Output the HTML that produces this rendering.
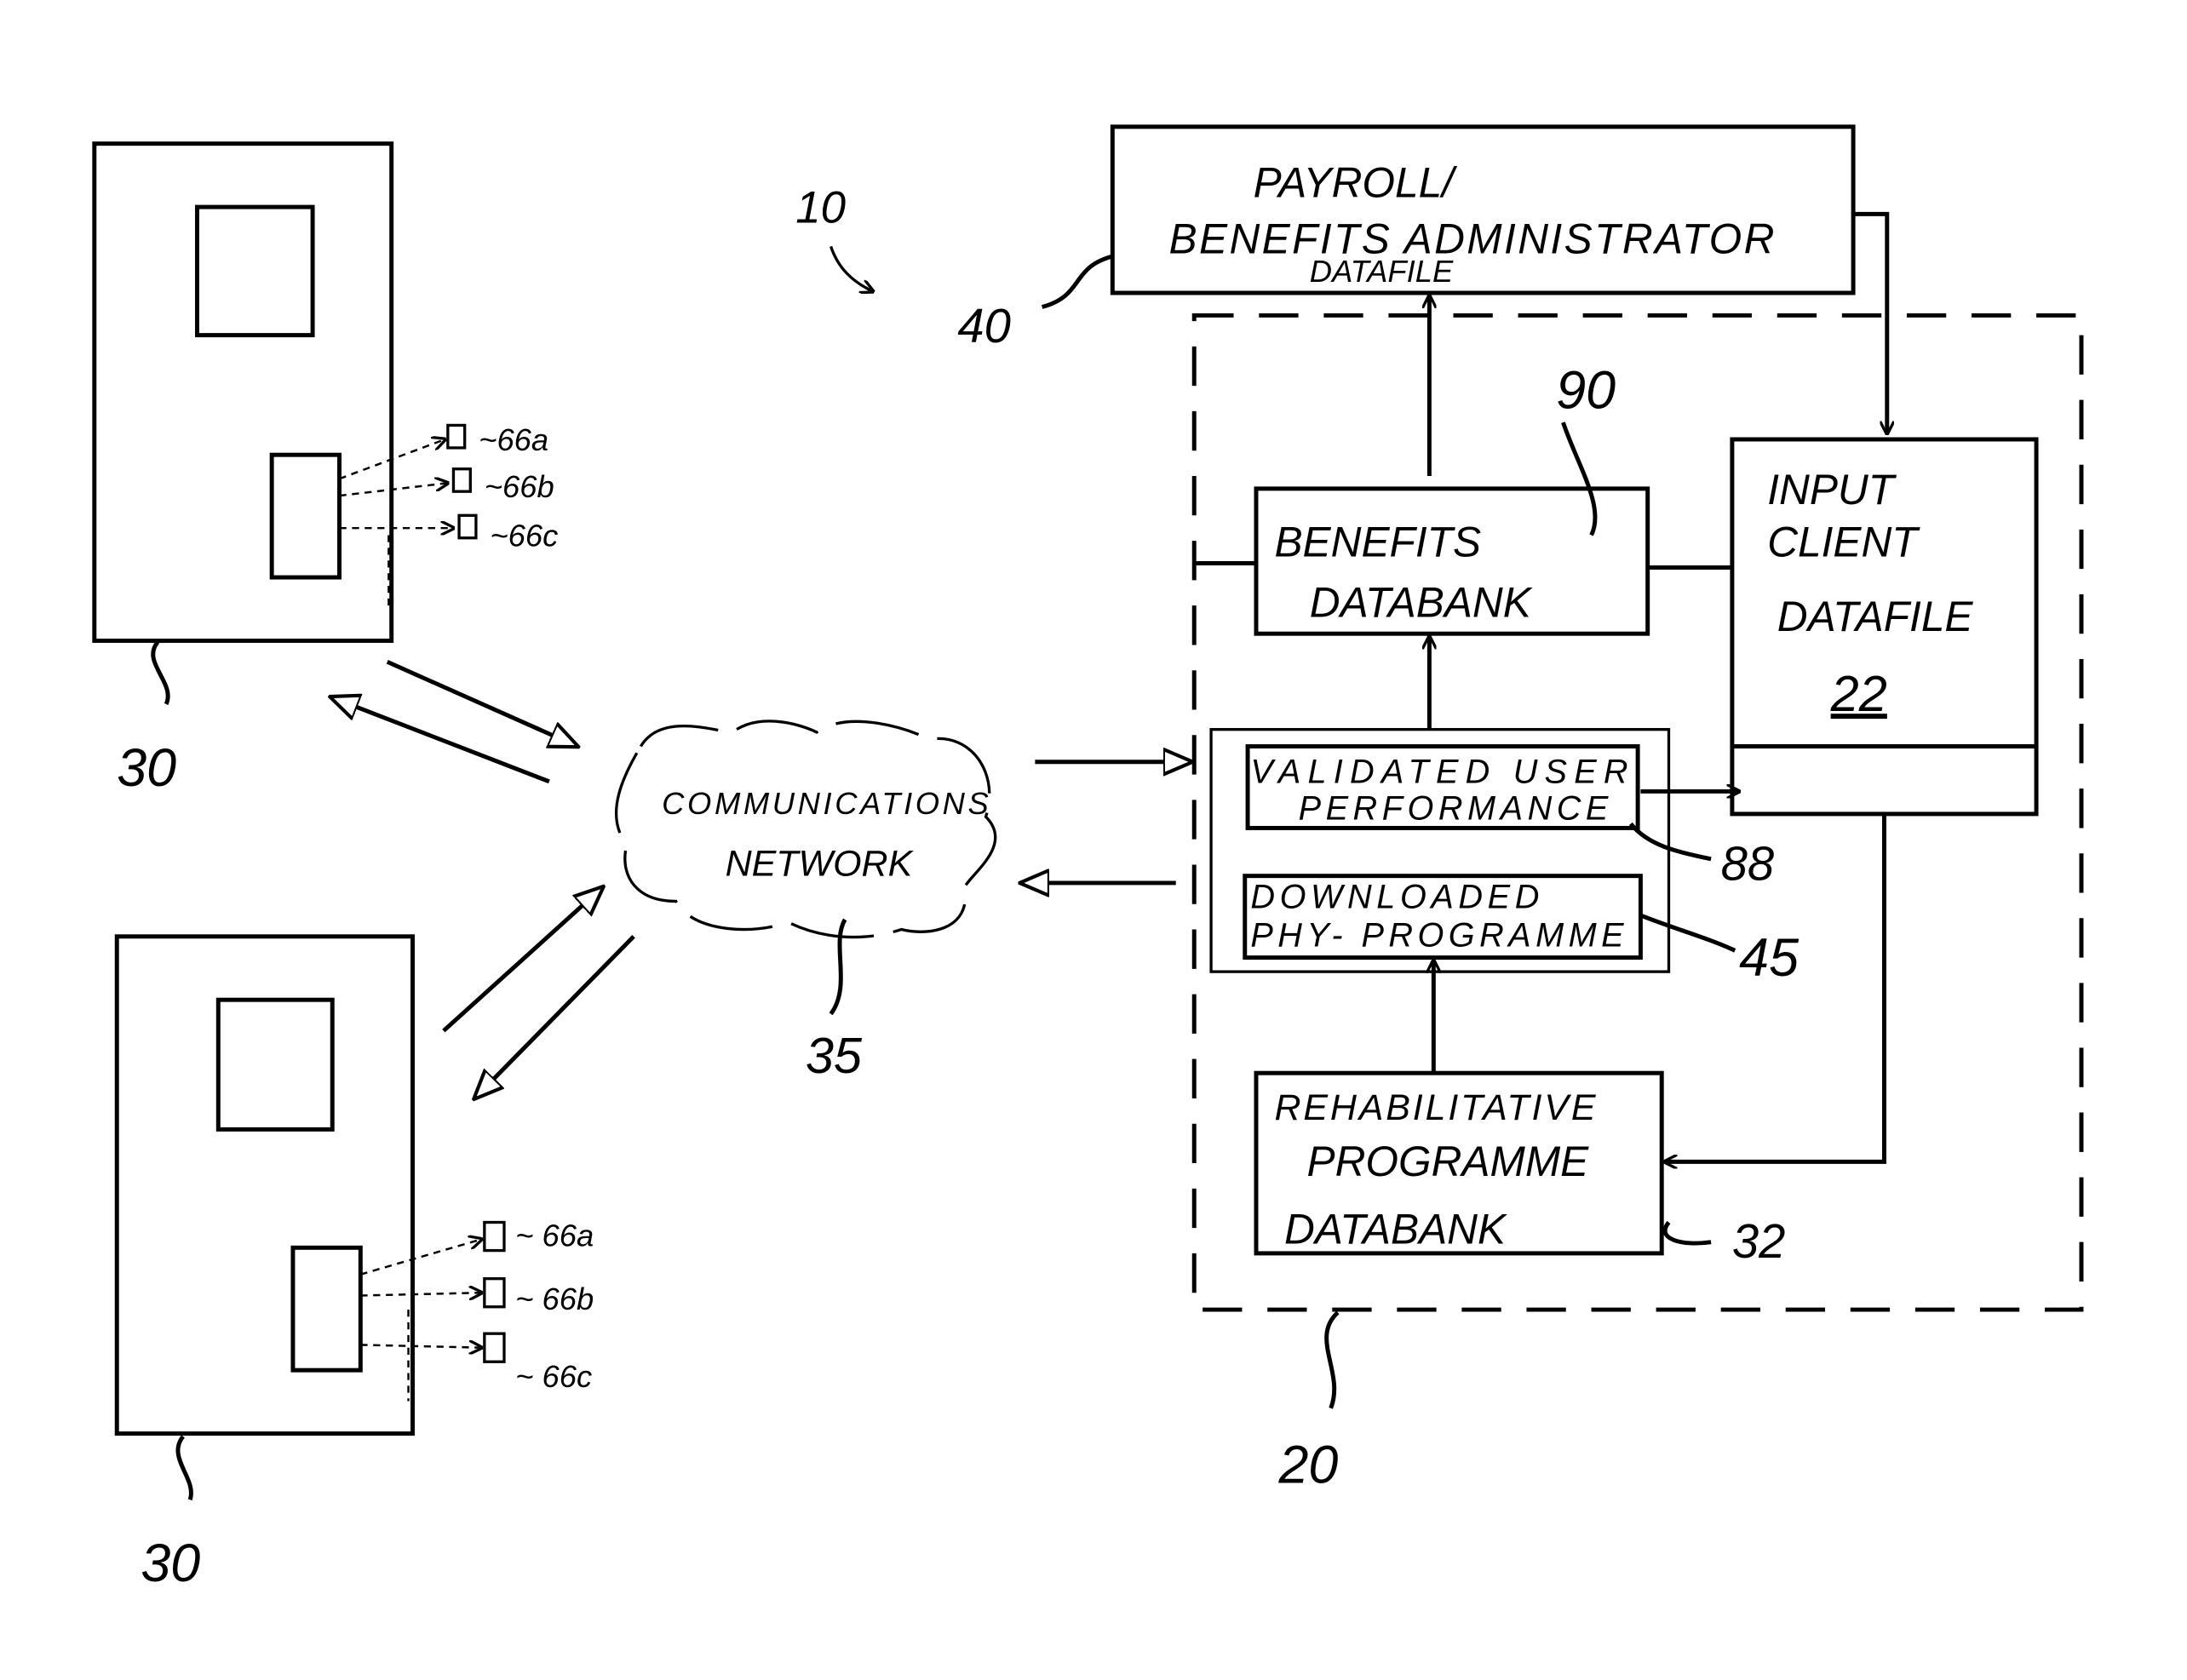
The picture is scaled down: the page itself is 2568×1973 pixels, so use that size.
<!DOCTYPE html>
<html><head><meta charset="utf-8"><style>
html,body{margin:0;padding:0;background:#fff;}
svg{display:block;}
text{font-family:"Liberation Sans",sans-serif;font-style:italic;fill:#000;}
</style></head><body>
<svg width="2568" height="1973" viewBox="0 0 1553 1193" preserveAspectRatio="none" xmlns="http://www.w3.org/2000/svg">
<defs>
<marker id="a" markerWidth="10" markerHeight="10" refX="9" refY="5" orient="auto" markerUnits="userSpaceOnUse"><path d="M0,0 L10,5 L0,10" fill="none" stroke="#000" stroke-width="2"/></marker>
<marker id="t" markerWidth="22" markerHeight="20" refX="20" refY="10" orient="auto" markerUnits="userSpaceOnUse"><path d="M0,1 L21,10 L0,19 Z" fill="#fff" stroke="#000" stroke-width="2.5"/></marker>
</defs>
<g fill="none" stroke="#000" stroke-width="3">
<!-- top device -->
<rect x="67" y="102" width="211" height="353"/>
<rect x="140" y="147" width="82" height="91"/>
<rect x="193" y="323" width="48" height="87"/>
<!-- bottom device -->
<rect x="83" y="665" width="210" height="353"/>
<rect x="155" y="710" width="81" height="92"/>
<rect x="208" y="886" width="48" height="87"/>
<!-- payroll -->
<rect x="790" y="90" width="526" height="118"/>
<!-- dashed -->
<rect x="848" y="224" width="630" height="706" stroke-dasharray="28,18"/>
<rect x="892" y="347" width="278" height="103"/>
<rect x="1230" y="312" width="216" height="266"/>
<line x1="1230" y1="530" x2="1446" y2="530"/>
<rect x="860" y="518" width="325" height="172" stroke-width="2"/>
<rect x="886" y="530" width="277" height="58"/>
<rect x="884" y="622" width="281" height="58"/>
<rect x="892" y="762" width="288" height="128"/>
<!-- tails -->
<path d="M112,456 C100,470 125,485 118,500"/>
<path d="M130,1020 C118,1035 140,1050 135,1065"/>
<path d="M600,653 C590,670 605,700 590,720"/>
<path d="M950,932 C930,950 955,975 945,1000"/>
<path d="M740,218 C770,210 760,190 790,182"/>
<path d="M1130,380 C1140,360 1120,330 1110,300"/>
<path d="M1158,585 C1170,600 1190,605 1215,610"/>
<path d="M1165,650 C1190,660 1210,665 1232,675"/>
<path d="M1185,868 C1175,880 1195,885 1215,882"/>
<path d="M590,175 C595,190 605,200 620,207" marker-end="url(#a)" stroke-width="2"/>
<!-- cloud -->
<path d="M455,530 C470,505 510,520 520,520 C540,505 570,515 580,520 C600,505 640,515 660,525 C690,520 710,550 700,580 C720,600 690,620 685,630 C690,660 660,665 640,660 C610,670 580,665 560,655 C530,665 490,660 480,640 C450,640 440,620 445,600 C430,580 440,555 455,530 Z" stroke-width="2" stroke-dasharray="60,14"/>
</g>
<g fill="none" stroke="#000" stroke-width="3">
<line x1="1015" y1="518" x2="1015" y2="452" marker-end="url(#a)"/>
<line x1="1015" y1="338" x2="1015" y2="210" marker-end="url(#a)"/>
<polyline points="1316,152 1340,152 1340,308" marker-end="url(#a)"/>
<line x1="1170" y1="403" x2="1230" y2="403"/>
<line x1="848" y1="400" x2="892" y2="400"/>
<line x1="1165" y1="562" x2="1235" y2="562" marker-end="url(#a)"/>
<polyline points="1338,578 1338,825 1182,825" marker-end="url(#a)"/>
<line x1="1018" y1="762" x2="1018" y2="682" marker-end="url(#a)"/>
<line x1="735" y1="541" x2="846" y2="541" marker-end="url(#t)"/>
<line x1="835" y1="627" x2="725" y2="627" marker-end="url(#t)"/>
<line x1="275" y1="470" x2="410" y2="530" marker-end="url(#t)"/>
<line x1="390" y1="555" x2="235" y2="495" marker-end="url(#t)"/>
<line x1="315" y1="732" x2="428" y2="630" marker-end="url(#t)"/>
<line x1="450" y1="665" x2="337" y2="780" marker-end="url(#t)"/>
</g>
<g fill="none" stroke="#000" stroke-width="1.5" stroke-dasharray="5,4">
<line x1="241" y1="340" x2="316" y2="312" marker-end="url(#a)"/>
<line x1="241" y1="352" x2="318" y2="343" marker-end="url(#a)"/>
<line x1="241" y1="375" x2="322" y2="375" marker-end="url(#a)"/>
<line x1="256" y1="905" x2="342" y2="880" marker-end="url(#a)"/>
<line x1="256" y1="920" x2="342" y2="918" marker-end="url(#a)"/>
<line x1="256" y1="955" x2="342" y2="957" marker-end="url(#a)"/>
<line x1="276" y1="380" x2="276" y2="430"/>
<line x1="290" y1="930" x2="290" y2="995"/>
</g>
<g fill="#fff" stroke="#000" stroke-width="2">
<rect x="318" y="302" width="12" height="16"/><rect x="322" y="333" width="12" height="16"/><rect x="326" y="366" width="12" height="16"/>
<rect x="344" y="868" width="14" height="20"/><rect x="344" y="908" width="14" height="20"/><rect x="344" y="947" width="14" height="20"/>
</g>
<g font-size="22">
<text x="340" y="320">~66a</text><text x="344" y="353">~66b</text><text x="348" y="388">~66c</text>
<text x="366" y="885">~ 66a</text><text x="366" y="930">~ 66b</text><text x="366" y="985">~ 66c</text>
</g>
<g font-size="38">
<text x="83" y="558">30</text><text x="100" y="1123">30</text>
<text x="572" y="762" font-size="36">35</text>
<text x="565" y="158" font-size="32">10</text>
<text x="680" y="243" font-size="34">40</text>
<text x="908" y="1053">20</text>
<text x="1105" y="290">90</text>
<text x="1222" y="625" font-size="34">88</text>
<text x="1235" y="693">45</text>
<text x="1230" y="893" font-size="34">32</text>
</g>
<g font-size="30">
<text x="890" y="140">PAYROLL/</text>
<text x="830" y="180" font-size="30" textLength="430">BENEFITS ADMINISTRATOR</text>
<text x="930" y="200" font-size="22">DATAFILE</text>
<text x="905" y="395">BENEFITS</text>
<text x="930" y="438">DATABANK</text>
<text x="1255" y="358">INPUT</text>
<text x="1255" y="395">CLIENT</text>
<text x="1262" y="448">DATAFILE</text>
<text x="1300" y="505" font-size="36" text-decoration="underline">22</text>
<text x="888" y="556" font-size="24" textLength="268">VALIDATED USER</text>
<text x="922" y="582" font-size="24" textLength="220">PERFORMANCE</text>
<text x="888" y="645" font-size="24" textLength="205">DOWNLOADED</text>
<text x="888" y="672" font-size="24" textLength="265">PHY- PROGRAMME</text>
<text x="905" y="795" font-size="26" textLength="228">REHABILITATIVE</text>
<text x="928" y="835">PROGRAMME</text>
<text x="912" y="883">DATABANK</text>
<text x="470" y="578" font-size="22" textLength="232">COMMUNICATIONS</text>
<text x="515" y="622" font-size="26">NETWORK</text>
</g>
</svg>
</body></html>
